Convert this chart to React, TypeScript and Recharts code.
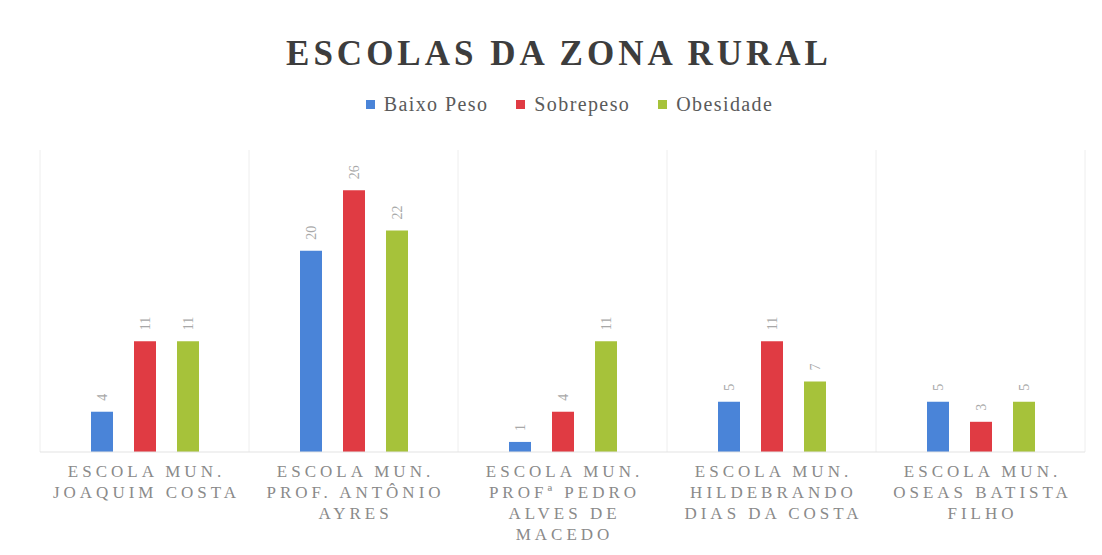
import React from 'react';
import { BarChart, Bar, XAxis, YAxis, CartesianGrid, Legend, LabelList } from 'recharts';

const categories = [
  'ESCOLA MUN.\nJOAQUIM COSTA',
  'ESCOLA MUN.\nPROF. ANTÔNIO\nAYRES',
  'ESCOLA MUN.\nPROFª PEDRO\nALVES DE\nMACEDO',
  'ESCOLA MUN.\nHILDEBRANDO\nDIAS DA COSTA',
  'ESCOLA MUN.\nOSEAS BATISTA\nFILHO',
];
const seriesNames = ['Baixo Peso', 'Sobrepeso', 'Obesidade'];
const baixoPeso = [4, 20, 1, 5, 5];
const sobrepeso = [11, 26, 4, 11, 3];
const obesidade = [11, 22, 11, 7, 5];

const data = categories.map((name, i) => ({
  name,
  baixo: baixoPeso[i],
  sobre: sobrepeso[i],
  obes: obesidade[i],
}));

const SERIF = '"Liberation Serif", "DejaVu Serif", serif';

// rótulo de categoria em várias linhas
const CategoryTick = (props: any) => {
  const { x, y, payload } = props;
  const lines = String(payload.value).split('\n');
  return (
    <g transform={`translate(${x + 2},${y})`}>
      {lines.map((l, i) => (
        <text
          key={i}
          x={0}
          y={17 + i * 21}
          textAnchor="middle"
          fill="#8a8a8a"
          fontFamily={SERIF}
          fontSize={17}
          letterSpacing={4}
        >
          {l}
        </text>
      ))}
    </g>
  );
};

// valor rotacionado acima da barra
const VerticalLabel = (props: any) => {
  const { x, y, width, value } = props;
  const cx = x + width / 2 + 5;
  const cy = y - 11;
  return (
    <text
      x={cx}
      y={cy}
      transform={`rotate(-90 ${cx} ${cy})`}
      textAnchor="start"
      fill="#a8a8a8"
      fontFamily={SERIF}
      fontSize={14}
    >
      {value}
    </text>
  );
};

const LegendContent = (props: any) => {
  const items = [...(props.payload || [])].sort(
    (a: any, b: any) => seriesNames.indexOf(a.value) - seriesNames.indexOf(b.value)
  );
  return (
    <div style={{ display: 'flex', justifyContent: 'center', gap: 28, fontFamily: SERIF, fontSize: 20 }}>
      {items.map((it: any) => (
        <span key={it.value} style={{ display: 'flex', alignItems: 'center', color: '#5a5a5a', letterSpacing: 1.4 }}>
          <span style={{ width: 9, height: 9, background: it.color, marginRight: 9, display: 'inline-block' }} />
          {it.value}
        </span>
      ))}
    </div>
  );
};

const App: React.FC = () => {
  return (
    <div style={{ position: 'relative', width: 1102, height: 555, background: '#fff' }}>
      <style>{`body{margin:0}`}</style>
      <div
        style={{
          position: 'absolute',
          top: 34,
          left: 0,
          width: 1118,
          textAlign: 'center',
          fontFamily: SERIF,
          fontWeight: 'bold',
          fontSize: 35,
          letterSpacing: 4,
          color: '#3d3d3d',
        }}
      >
        ESCOLAS DA ZONA RURAL
      </div>
      <BarChart
        width={1102}
        height={555}
        data={data}
        margin={{ top: 127, right: 17, bottom: 0, left: 40 }}
        barSize={22}
        barGap={21}
      >
        <CartesianGrid
          horizontal={false}
          stroke="#eeeeee"
          verticalCoordinatesGenerator={({ offset }: any) =>
            [0, 1, 2, 3, 4, 5].map((i) => offset.left + (i * offset.width) / categories.length)
          }
        />
        <XAxis
          dataKey="name"
          interval={0}
          tick={<CategoryTick />}
          tickLine={false}
          axisLine={{ stroke: '#e3e3e3' }}
          height={103}
        />
        <YAxis hide domain={[0, 30]} />
        <Legend
          verticalAlign="top"
          content={<LegendContent />}
          wrapperStyle={{ top: 93, left: 47 }}
        />
        <Bar dataKey="baixo" name="Baixo Peso" fill="#4a84d8" isAnimationActive={false}>
          <LabelList dataKey="baixo" content={<VerticalLabel />} />
        </Bar>
        <Bar dataKey="sobre" name="Sobrepeso" fill="#e03b43" isAnimationActive={false}>
          <LabelList dataKey="sobre" content={<VerticalLabel />} />
        </Bar>
        <Bar dataKey="obes" name="Obesidade" fill="#a6c23a" isAnimationActive={false}>
          <LabelList dataKey="obes" content={<VerticalLabel />} />
        </Bar>
      </BarChart>
    </div>
  );
};

export default App;
